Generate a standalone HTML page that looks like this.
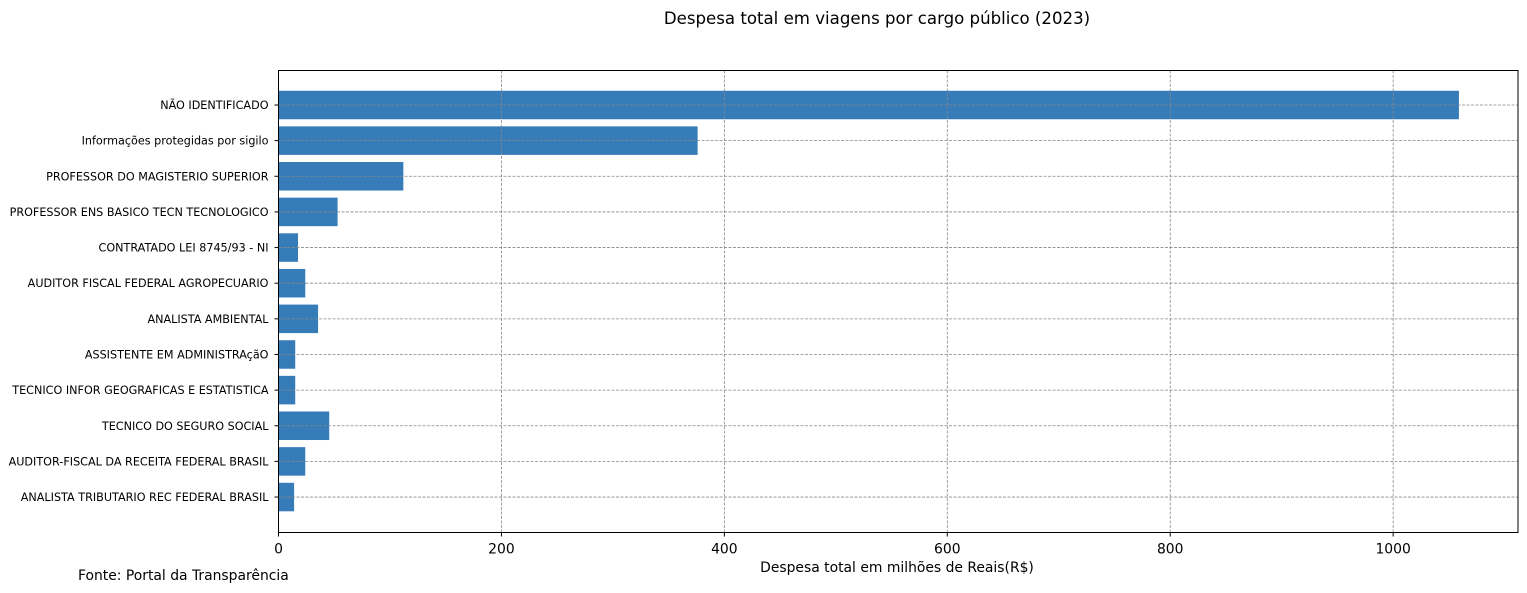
<!DOCTYPE html>
<html><head><meta charset="utf-8"><style>
body{margin:0;background:#fff;}
svg{display:block;font-family:"DejaVu Sans","Liberation Sans",sans-serif;}
</style></head><body>
<svg id="chart" width="1527" height="593">
<text x="877" y="24" text-anchor="middle" font-size="16.6">Despesa total em viagens por cargo público (2023)</text>
<g id="bars"></g>
<g id="grid"></g>
<g id="yaxis"></g>
<g id="xaxis"></g>
<rect x="278.5" y="70.5" width="1239.5" height="462" fill="none" stroke="#000" stroke-width="1"/>
<text x="897" y="572" text-anchor="middle" font-size="13.9">Despesa total em milhões de Reais(R$)</text>
<text x="78" y="580" font-size="13.9">Fonte: Portal da Transparência</text>
</svg>
<script>
const categories=["NÃO IDENTIFICADO","Informações protegidas por sigilo","PROFESSOR DO MAGISTERIO SUPERIOR","PROFESSOR ENS BASICO TECN TECNOLOGICO","CONTRATADO LEI 8745/93 - NI","AUDITOR FISCAL FEDERAL AGROPECUARIO","ANALISTA AMBIENTAL","ASSISTENTE EM ADMINISTRAçãO","TECNICO INFOR GEOGRAFICAS E ESTATISTICA","TECNICO DO SEGURO SOCIAL","AUDITOR-FISCAL DA RECEITA FEDERAL BRASIL","ANALISTA TRIBUTARIO REC FEDERAL BRASIL"];
const values=[1059,376,112,53,17.5,24,35.5,15,15,45.5,24,14];
const xTicks=[0,200,400,600,800,1000];
const NS="http://www.w3.org/2000/svg";
const x0=278.5,x1=1518,xMax=1112,yTop=70.5,yBot=532.5;
const xs=v=>x0+v/xMax*(x1-x0);
const n=categories.length;
const step=35.64;
const yc=i=>105+step*i;
function mk(t,a,p){const e=document.createElementNS(NS,t);for(const k in a)e.setAttribute(k,a[k]);p.appendChild(e);return e;}
const bars=document.getElementById('bars'),grid=document.getElementById('grid'),ya=document.getElementById('yaxis'),xa=document.getElementById('xaxis');
values.forEach((v,i)=>{
 const r=mk('rect',{x:x0,y:yc(i)-step*0.4,width:xs(v)-x0,height:step*0.8,fill:'#357cb9'},bars);
 
 
 const g=mk('line',{x1:x0,x2:x1,y1:yc(i),y2:yc(i),stroke:'#888','stroke-width':0.8,'stroke-dasharray':'3,1.5'},grid);
 
 
 mk('line',{x1:x0-4,x2:x0,y1:yc(i),y2:yc(i),stroke:'#000'},ya);
 const t=mk('text',{x:x0-10,y:yc(i)+4,'text-anchor':'end','font-size':11.2},ya);
 t.textContent=categories[i];
 
 
});
xTicks.forEach(v=>{
 const X=xs(v);
 if(v>0){const g=mk('line',{x1:X,x2:X,y1:yTop,y2:yBot,stroke:'#888','stroke-width':0.8,'stroke-dasharray':'3,1.5'},grid);
 
 }
 mk('line',{x1:X,x2:X,y1:yBot,y2:yBot+4,stroke:'#000'},xa);
 const t=mk('text',{x:X,y:yBot+21,'text-anchor':'middle','font-size':13.9},xa);
 t.textContent=v;
 
 
});
</script>
</body></html>
